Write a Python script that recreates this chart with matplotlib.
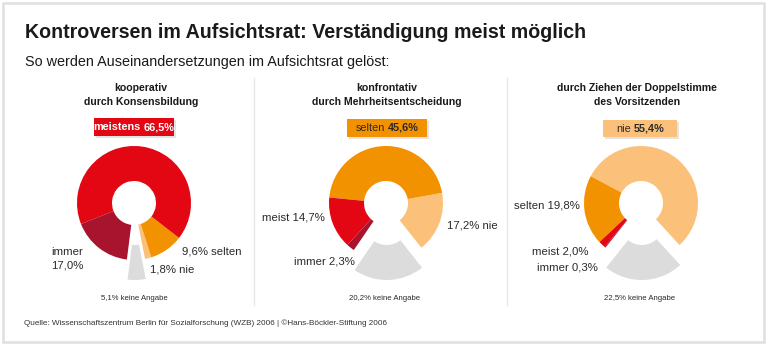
import matplotlib
matplotlib.use('Agg')
import matplotlib.pyplot as plt
from matplotlib.patches import Rectangle

W, H = 767, 346
plt.rcParams['font.family'] = ['Liberation Sans', 'DejaVu Sans']

# ---------------- data ----------------
title = "Kontroversen im Aufsichtsrat: Verständigung meist möglich"
subtitle = "So werden Auseinandersetzungen im Aufsichtsrat gelöst:"
source = ("Quelle: Wissenschaftszentrum Berlin für Sozialforschung (WZB) 2006 | "
          "©Hans-Böckler-Stiftung 2006")

panel_titles = ["kooperativ\ndurch Konsensbildung",
                "konfrontativ\ndurch Mehrheitsentscheidung",
                "durch Ziehen der Doppelstimme\ndes Vorsitzenden"]
categories = ["keine Angabe", "nie", "selten", "meist", "immer"]
values_koop = [5.1, 1.8, 9.6, 66.5, 17.0]
values_konf = [20.2, 17.2, 45.6, 14.7, 2.3]
values_dopp = [22.5, 55.4, 19.8, 2.0, 0.3]
series = [values_koop, values_konf, values_dopp]
main_label_words = ["meistens", "selten", "nie"]
main_label_index = [3, 2, 1]

colors = ["#dcdcdc", "#fbc07a", "#f39200", "#e30613", "#a8132d"]
box_colors = ["#e30613", "#f39200", "#fbc07a"]
box_text_colors = ["white", "#2a2a2a", "#2a2a2a"]


def fmt(v):
    return f"{v:.1f}".replace(".", ",") + "%"


def Y(y):
    return H - y


fig = plt.figure(figsize=(W / 100, H / 100), dpi=100)
ax = fig.add_axes([0, 0, 1, 1])

# frame
ax.add_patch(Rectangle((3, Y(342)), 761, 339, fill=False, ec="#e0e0e0", lw=1.8))

ax.text(25, Y(32), title, fontsize=14.1, fontweight="bold", color="#1a1a1a",
        va="center", ha="left")
ax.text(25, Y(62), subtitle, fontsize=10.4, color="#1a1a1a", va="center", ha="left")
ax.text(24, Y(323), source, fontsize=5.85, color="#333333", va="center", ha="left")

# dividers
for xd in [254, 507]:
    ax.plot([xd, xd], [Y(78), Y(305)], color="#e6e6e6", lw=1)

centers = [(134, 203), (386, 203), (641, 203)]
title_x = [141, 387, 637]
box_rects = [(94, 118, 80, 18), (347, 119, 80, 18), (603, 120, 74, 17)]
R, RIN, EXPL = 57, 22, 20

for i, vals in enumerate(series):
    cx, cy = centers[i]
    start = -88 - vals[0] * 3.6 / 2
    explode = [EXPL, 0, 0, 0, 0]
    ax.pie(vals, colors=colors, center=(cx, Y(cy)), radius=R, startangle=start,
           counterclock=True, explode=explode,
           wedgeprops=dict(width=R - RIN, linewidth=0))
    ax.text(title_x[i], Y(95), panel_titles[i], fontsize=7.6, fontweight="bold",
            ha="center", va="center", color="#1a1a1a", linespacing=1.45)

ax.set_xlim(0, W)
ax.set_ylim(0, H)
ax.set_aspect("auto")
ax.axis("off")

# value labels
lab_color = "#2a2a2a"
fs = 8.2
v = values_koop
ax.text(83, Y(252), "immer", fontsize=fs, ha="right", va="center", color=lab_color)
ax.text(83, Y(265), fmt(v[4]), fontsize=fs, ha="right", va="center", color=lab_color)
ax.text(182, Y(252), f"{fmt(v[2])} selten", fontsize=fs, ha="left", va="center", color=lab_color)
ax.text(150, Y(270), f"{fmt(v[1])} nie", fontsize=fs, ha="left", va="center", color=lab_color)
ax.text(134, Y(298), f"{fmt(v[0])} keine Angabe", fontsize=5.6, ha="center", va="center", color=lab_color)

v = values_konf
ax.text(325, Y(217), f"meist {fmt(v[3])}", fontsize=fs, ha="right", va="center", color=lab_color)
ax.text(447, Y(225), f"{fmt(v[1])} nie", fontsize=fs, ha="left", va="center", color=lab_color)
ax.text(355, Y(261), f"immer {fmt(v[4])}", fontsize=fs, ha="right", va="center", color=lab_color)
ax.text(385, Y(298), f"{fmt(v[0])} keine Angabe", fontsize=5.6, ha="center", va="center", color=lab_color)

v = values_dopp
ax.text(580, Y(205), f"selten {fmt(v[2])}", fontsize=fs, ha="right", va="center", color=lab_color)
ax.text(588, Y(252), f"meist {fmt(v[3])}", fontsize=fs, ha="right", va="center", color=lab_color)
ax.text(598, Y(267), f"immer {fmt(v[4])}", fontsize=fs, ha="right", va="center", color=lab_color)
ax.text(640, Y(298), f"{fmt(v[0])} keine Angabe", fontsize=5.6, ha="center", va="center", color=lab_color)

# highlighted boxes
renderer = fig.canvas.get_renderer()
bfs = 7.8
for i, vals in enumerate(series):
    bx, by, bw, bh = box_rects[i]
    ax.add_patch(Rectangle((bx + 2, Y(by + bh + 2)), bw, bh, color="#e4e4e4", lw=0, zorder=3))
    ax.add_patch(Rectangle((bx, Y(by + bh)), bw, bh, color=box_colors[i], lw=0, zorder=4))
    word = main_label_words[i]
    num = fmt(vals[main_label_index[i]])
    weight1 = "bold" if i == 0 else "normal"
    t1 = ax.text(0, 0, word, fontsize=bfs, fontweight=weight1, color=box_text_colors[i],
                 ha="left", va="center", zorder=5)
    t2 = ax.text(0, 0, num, fontsize=bfs, fontweight="bold", color=box_text_colors[i],
                 ha="left", va="center", zorder=5)
    gap = 2.6
    w1 = t1.get_window_extent(renderer).width
    w2 = t2.get_window_extent(renderer).width
    x0 = bx + bw / 2 - (w1 + gap + w2) / 2
    yc = Y(by + bh / 2)
    t1.set_position((x0, yc))
    t2.set_position((x0 + w1 + gap, yc))

fig.savefig("out.png", dpi=100, facecolor="white")
